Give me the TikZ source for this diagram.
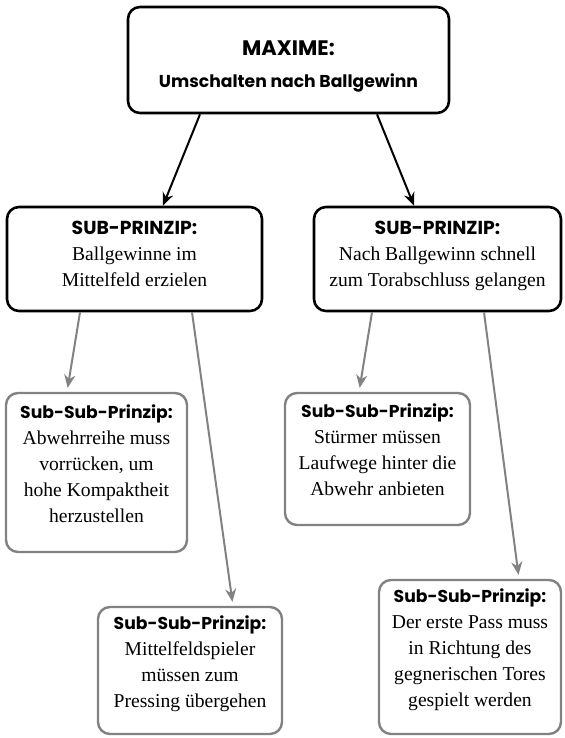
\documentclass[tikz,border=0pt]{standalone}
\usepackage{fontspec}
\setmainfont{Liberation Serif}
\newfontfamily\headfont{Poppins}
\usepackage{tikz}
\usetikzlibrary{arrows.meta, positioning}
\definecolor{boxgray}{RGB}{130,130,130}
\newcommand{\prinzhead}[1]{{\headfont\bfseries\fontsize{9.4}{13}\selectfont #1}}
\newcommand{\sshead}[1]{{\headfont\bfseries\fontsize{8.6}{13}\selectfont #1}}
\newcommand{\lowpad}[1][9pt]{\rule[-#1]{0pt}{#1}}

\begin{document}
\begin{tikzpicture}[x=0.5pt, y=-0.5pt,
  box/.style={rectangle, draw=black, rounded corners=6pt, line width=1.3pt,
              align=center, inner sep=0pt, font=\fontsize{9.8}{13}\selectfont},
  ssbox/.style={box, draw=boxgray, line width=1.2pt},
  arr/.style={-{Stealth[length=6.5pt, width=5.5pt]}, line width=1pt},
  grayarr/.style={arr, boxgray, shorten >=2pt},
]
\useasboundingbox (0,0) rectangle (564,738);

% MAXIME
\node[box, minimum width=160.5pt, minimum height=53pt,
      font=\headfont\bfseries\fontsize{8.6}{16}\selectfont] (maxime) at (288.5,60)
  {\rule{0pt}{14pt}{\fontsize{10.5}{16}\selectfont MAXIME:}\\Umschalten nach Ballgewinn};

% SUB-PRINZIPIEN
\node[box, minimum width=127.5pt, minimum height=52pt] (subL) at (134.5,259)
  {\prinzhead{SUB-PRINZIP:}\\Ballgewinne im\\Mittelfeld erzielen\lowpad[5.5pt]};
\node[box, minimum width=123.5pt, minimum height=52pt] (subR) at (437.5,259)
  {\prinzhead{SUB-PRINZIP:}\\Nach Ballgewinn schnell\\zum Torabschluss gelangen\lowpad[5.5pt]};
\draw[arr] ([xshift=-44.25pt]maxime.south) -- ([xshift=14.25pt]subL.north);
\draw[arr] ([xshift=44.25pt]maxime.south) -- ([xshift=-11.75pt]subR.north);

% SUB-SUB-PRINZIPIEN
\node[ssbox, minimum width=90.5pt, minimum height=79.5pt] (ssL1) at (96.5,472.5)
  {\sshead{Sub-Sub-Prinzip:}\\Abwehrreihe muss\\vorrücken, um\\hohe Kompaktheit\\herzustellen\lowpad};
\node[ssbox, minimum width=92pt, minimum height=63.5pt] (ssL2) at (190,670.5)
  {\sshead{Sub-Sub-Prinzip:}\\Mittelfeldspieler\\müssen zum\\Pressing übergehen\lowpad};
\node[ssbox, minimum width=92.5pt, minimum height=66pt] (ssR1) at (377.5,459)
  {\sshead{Sub-Sub-Prinzip:}\\Stürmer müssen\\Laufwege hinter die\\Abwehr anbieten\lowpad};
\node[ssbox, minimum width=91pt, minimum height=77pt] (ssR2) at (470,657)
  {\sshead{Sub-Sub-Prinzip:}\\Der erste Pass muss\\in Richtung des\\gegnerischen Tores\\gespielt werden\lowpad};

\draw[grayarr] ([xshift=-27.25pt]subL.south) -- ([xshift=-14.75pt]ssL1.north);
\draw[grayarr] ([xshift=28.75pt]subL.south) -- ([xshift=21.5pt]ssL2.north);
\draw[grayarr] ([xshift=-32.75pt]subR.south) -- ([xshift=-9.25pt]ssR1.north);
\draw[grayarr] ([xshift=23.25pt]subR.south) -- ([xshift=24.5pt]ssR2.north);
\end{tikzpicture}
\end{document}
